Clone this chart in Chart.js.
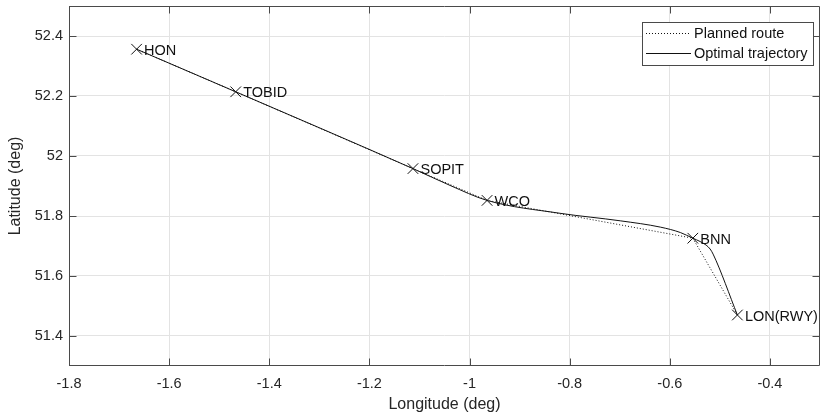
<!DOCTYPE html>
<html>
<head>
<meta charset="utf-8">
<title>Route</title>
<script src="https://cdn.jsdelivr.net/npm/chart.js@4.4.1/dist/chart.umd.min.js"></script>
<style>
  body { margin: 0; background: #fff; }
  #wrap { width: 821px; height: 419px; }
</style>
</head>
<body>
<div id="wrap"><canvas id="route" width="821" height="419"></canvas></div>
<script>
// waypoints of the planned route
const waypointNames = ["HON", "TOBID", "SOPIT", "WCO", "BNN", "LON(RWY)"];
const waypointLon = [-1.665, -1.467, -1.113, -0.965, -0.554, -0.465];
const waypointLat = [52.356, 52.214, 51.958, 51.852, 51.726, 51.470];

// optimal trajectory samples
const optimalLon = [-1.665, -1.467, -1.113, -1.039, -0.965, -0.819, -0.699, -0.619, -0.579, -0.554, -0.5395, -0.5275, -0.5195, -0.5135, -0.465];
const optimalLat = [52.356, 52.214, 51.958, 51.902, 51.852, 51.809, 51.784, 51.763, 51.745, 51.726, 51.715, 51.703, 51.690, 51.673, 51.470];

const lonTicks = [-1.8, -1.6, -1.4, -1.2, -1, -0.8, -0.6, -0.4];
const latTicks = [51.4, 51.6, 51.8, 52, 52.2, 52.4];

const FONT = "'Liberation Sans', Arial, Helvetica, sans-serif";
const INK = "#262626";
const AXIS = "#4a4a4a";

function toPoints(xs, ys) {
  return xs.map((x, i) => ({ x: x, y: ys[i] }));
}

function fmt(v) {
  return String(+Number(v).toFixed(2));
}

// frame, inward ticks, waypoint names and the boxed legend
const decorations = {
  id: "decorations",
  afterDraw(chart) {
    const ctx = chart.ctx;
    const a = chart.chartArea;
    const xs = chart.scales.x;
    const ys = chart.scales.y;
    const tl = 7.5;

    ctx.save();
    ctx.strokeStyle = AXIS;
    ctx.lineWidth = 1;
    ctx.beginPath();
    ctx.rect(Math.round(a.left) + 0.5, Math.round(a.top) + 0.5,
      Math.round(a.right - a.left) - 1, Math.round(a.bottom - a.top) - 1);
    lonTicks.forEach(v => {
      const px = Math.round(xs.getPixelForValue(v)) + 0.5;
      ctx.moveTo(px, a.bottom); ctx.lineTo(px, a.bottom - tl);
      ctx.moveTo(px, a.top); ctx.lineTo(px, a.top + tl);
    });
    latTicks.forEach(v => {
      const py = Math.round(ys.getPixelForValue(v)) + 0.5;
      ctx.moveTo(a.left, py); ctx.lineTo(a.left + tl, py);
      ctx.moveTo(a.right, py); ctx.lineTo(a.right - tl, py);
    });
    ctx.stroke();

    // waypoint names next to the markers
    const meta = chart.getDatasetMeta(2);
    ctx.fillStyle = "#111";
    ctx.font = "14.5px " + FONT;
    ctx.textAlign = "left";
    ctx.textBaseline = "middle";
    meta.data.forEach((el, i) => {
      ctx.fillText(waypointNames[i], el.x + 7.5, el.y + 1.5);
    });

    // legend box
    const bx = 642, by = 22, bw = 171, bh = 43;
    ctx.fillStyle = "#fff";
    ctx.fillRect(bx, by, bw, bh);
    ctx.strokeStyle = AXIS;
    ctx.strokeRect(bx + 0.5, by + 0.5, bw, bh);
    chart.data.datasets.slice(0, 2).forEach((ds, i) => {
      const y = by + 11.5 + i * 20;
      ctx.strokeStyle = ds.borderColor;
      ctx.lineWidth = ds.borderWidth;
      ctx.setLineDash(ds.borderDash || []);
      ctx.beginPath();
      ctx.moveTo(bx + 4, y);
      ctx.lineTo(bx + 49, y);
      ctx.stroke();
      ctx.setLineDash([]);
      ctx.fillStyle = "#111";
      ctx.fillText(ds.label, bx + 52, y + 0.5);
    });
    ctx.restore();
  }
};

new Chart(document.getElementById("route"), {
  type: "scatter",
  data: {
    datasets: [
      {
        label: "Planned route",
        data: toPoints(waypointLon, waypointLat),
        showLine: true,
        borderColor: "#111",
        borderWidth: 1,
        borderDash: [1, 2],
        pointRadius: 0,
        fill: false
      },
      {
        label: "Optimal trajectory",
        data: toPoints(optimalLon, optimalLat),
        showLine: true,
        cubicInterpolationMode: "monotone",
        borderColor: "#111",
        borderWidth: 1,
        pointRadius: 0,
        fill: false
      },
      {
        label: "Waypoints",
        data: toPoints(waypointLon, waypointLat),
        showLine: false,
        pointStyle: "crossRot",
        pointRadius: 7.5,
        borderColor: "#111",
        borderWidth: 1
      }
    ]
  },
  options: {
    responsive: false,
    animation: false,
    devicePixelRatio: 1,
    layout: { autoPadding: false, padding: { top: 6, right: 1, left: 0, bottom: 0 } },
    plugins: {
      legend: { display: false },
      tooltip: { enabled: false }
    },
    scales: {
      x: {
        type: "linear",
        min: -1.8,
        max: -0.3,
        afterBuildTicks: s => { s.ticks = lonTicks.map(v => ({ value: v })); },
        afterFit: s => { s.height = 53; s.paddingLeft = 0; s.paddingRight = 0; },
        grid: { color: "#e3e3e3", drawTicks: false },
        border: { display: false },
        ticks: { padding: 9, color: INK, font: { family: FONT, size: 14.5 }, callback: fmt, maxRotation: 0 },
        title: { display: true, text: "Longitude (deg)", color: INK, font: { family: FONT, size: 16 }, padding: { top: 0, bottom: 5 } }
      },
      y: {
        type: "linear",
        min: 51.3,
        max: 52.5,
        afterBuildTicks: s => { s.ticks = latTicks.map(v => ({ value: v })); },
        afterFit: s => { s.width = 69; s.paddingTop = 0; s.paddingBottom = 0; },
        grid: { color: "#e3e3e3", drawTicks: false },
        border: { display: false },
        ticks: { padding: 6, color: INK, font: { family: FONT, size: 14.5 }, callback: fmt },
        title: { display: true, text: "Latitude (deg)", color: INK, font: { family: FONT, size: 16 }, padding: { top: 6, bottom: 0 } }
      }
    }
  },
  plugins: [decorations]
});
</script>
</body>
</html>
